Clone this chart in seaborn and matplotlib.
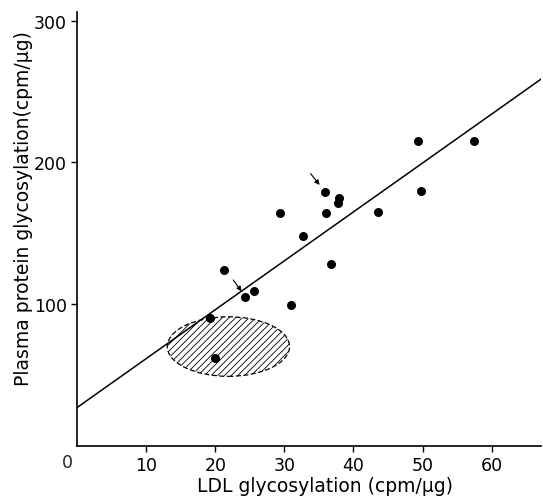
import numpy as np
import pandas as pd
import seaborn as sns
import matplotlib.pyplot as plt
from matplotlib.patches import Ellipse

# values
ldl = [19.2, 20.0, 21.3, 24.3, 25.6, 29.4, 31.0, 32.7, 35.9, 36.0,
       36.8, 37.7, 37.9, 43.5, 49.3, 49.8, 57.5]
plasma = [90, 62, 124, 105, 109, 164, 99, 148, 179, 164,
          128, 171, 175, 165, 215, 180, 215]

intercept = 27
slope = 3.45

# normal range (hatched ellipse)
ell_center = (21.9, 70)
ell_width = 17.7
ell_height = 42

# arrows: (start x, start y, end x, end y)
arrows = [(33.8, 192, 35.1, 184), (22.6, 117, 23.8, 109)]

xticks = [10, 20, 30, 40, 50, 60]
yticks = [100, 200, 300]

sns.set_style('ticks')
plt.rcParams['font.family'] = ['DejaVu Sans']
plt.rcParams['hatch.linewidth'] = 0.6

data = pd.DataFrame({'LDL': ldl, 'Plasma': plasma})

fig = plt.figure(figsize=(5.43, 5.02), dpi=100)
ax = fig.add_axes([0.142, 0.11, 0.855, 0.864])

line_x = np.array([0, 67.2])
line = pd.DataFrame({'x': line_x, 'y': intercept + slope * line_x})
sns.lineplot(x='x', y='y', data=line, color='black', lw=1.1, ax=ax)

ax.add_patch(Ellipse(ell_center, ell_width, ell_height, facecolor='none',
                     edgecolor='black', hatch='/////', lw=0.9, ls=(0, (4, 2))))

sns.scatterplot(x='LDL', y='Plasma', data=data, color='black', s=42,
                edgecolor='black', linewidth=0, ax=ax, zorder=3)

for x0, y0, x1, y1 in arrows:
    ax.annotate('', xy=(x1, y1), xytext=(x0, y0),
                arrowprops=dict(arrowstyle='-|>', color='black', lw=0.8,
                                mutation_scale=7, shrinkA=0, shrinkB=0))

ax.set_xlim(0, 67.2)
ax.set_ylim(0, 306)
ax.set_xticks(xticks)
ax.set_yticks(yticks)
ax.tick_params(labelsize=12.5, length=4, width=1, direction='out',
               color='black', labelcolor='black')
ax.text(-0.6, -5, '0', fontsize=12.5, ha='right', va='top')

sns.despine(ax=ax)
for s in ['left', 'bottom']:
    ax.spines[s].set_linewidth(1.2)
    ax.spines[s].set_color('black')

ax.set_xlabel('LDL glycosylation (cpm/\u03bcg)', fontsize=13.5, color='black')
ax.set_ylabel('Plasma protein glycosylation(cpm/\u03bcg)', fontsize=13.5,
              color='black')
ax.xaxis.set_label_coords(0.535, -0.07)
ax.yaxis.set_label_coords(-0.095, 0.55)

fig.savefig('out.png', dpi=100)
